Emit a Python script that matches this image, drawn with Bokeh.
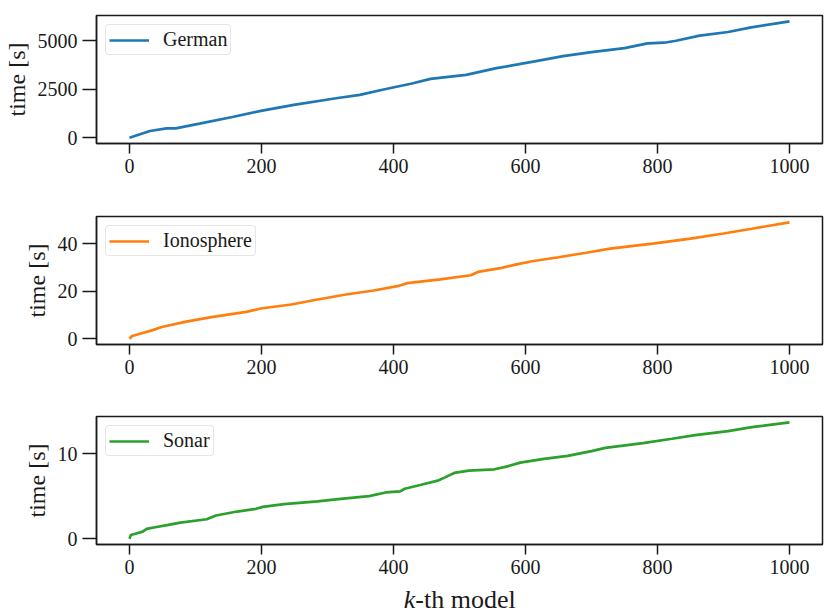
from bokeh.plotting import figure
from bokeh.layouts import column
from bokeh.models import Range1d, FixedTicker, Label, Legend, LegendItem
from bokeh.embed import file_html
from bokeh.resources import INLINE

# ---- data ----
german_k = [0, 31, 56, 70, 106, 156, 199, 249, 313, 349, 385, 428, 456, 510, 556,
            614, 657, 700, 750, 785, 810, 828, 864, 907, 942, 1000]
german_t = [0, 345, 483, 483, 724, 1069, 1379, 1690, 2034, 2207, 2483, 2793, 3034,
            3241, 3586, 3931, 4207, 4414, 4621, 4862, 4897, 5000, 5259, 5448, 5690, 6000]

iono_k = [0, 4, 20, 34, 49, 84, 124, 177, 199, 245, 285, 328, 370, 406, 421, 471,
          517, 528, 564, 585, 610, 650, 692, 728, 793, 850, 900, 943, 1000]
iono_t = [0, 1.1, 2.4, 3.5, 4.9, 7.1, 9.1, 11.3, 12.7, 14.4, 16.5, 18.6, 20.3, 22.1,
          23.4, 25.0, 26.7, 28.1, 29.8, 31.2, 32.6, 34.3, 36.2, 37.9, 40.0, 42.1,
          44.3, 46.3, 49.0]

sonar_k = [0, 2, 9, 20, 26, 41, 59, 77, 117, 131, 163, 192, 202, 234, 285, 320, 363,
           388, 410, 417, 442, 467, 478, 492, 514, 553, 571, 592, 628, 664, 700, 721,
           778, 822, 857, 907, 943, 1000]
sonar_t = [0, 0.43, 0.59, 0.83, 1.15, 1.38, 1.62, 1.90, 2.29, 2.73, 3.20, 3.52, 3.75,
           4.07, 4.39, 4.70, 5.02, 5.45, 5.57, 5.89, 6.36, 6.84, 7.23, 7.75, 8.02,
           8.18, 8.50, 8.97, 9.41, 9.76, 10.32, 10.71, 11.26, 11.78, 12.21, 12.69,
           13.16, 13.72]

names = ["German", "Ionosphere", "Sonar"]
colors = ["#1f77b4", "#ff7f0e", "#2ca02c"]
x_ticks = [0, 200, 400, 600, 800, 1000]
y_ticks = [[0, 2500, 5000], [0, 20, 40], [0, 10]]
y_label = "time [s]"
x_label_italic = "k"
x_label_rest = "-th model"

FONT = "Liberation Serif"
INK = "#1a1a1a"
W = 831
LEFT = 96
RIGHT = 9


def make_fig(k, t, color, name, yticks, height, mbt, mbb):
    span = max(t) - min(t)
    yr = Range1d(min(t) - 0.05 * span, max(t) + 0.05 * span)
    xspan = max(k) - min(k)
    xr = Range1d(min(k) - 0.05 * xspan, max(k) + 0.05 * xspan)
    p = figure(width=W, height=height, x_range=xr, y_range=yr,
               output_backend="svg", toolbar_location=None,
               min_border_left=LEFT, min_border_right=RIGHT, min_border_top=mbt,
               min_border_bottom=mbb)
    r = p.line(k, t, line_color=color, line_width=2.7)
    leg = Legend(items=[LegendItem(label=name, renderers=[r])], location="top_left",
                 label_text_font=FONT, label_text_font_size="20px",
                 label_text_color=INK,
                 glyph_width=40, glyph_height=20, label_height=20,
                 label_standoff=14, padding=3, margin=9, spacing=0,
                 border_line_color="#cccccc", border_line_width=1.5,
                 border_radius=4, background_fill_alpha=0.8)
    p.add_layout(leg)
    p.xgrid.visible = False
    p.ygrid.visible = False
    p.outline_line_color = INK
    p.outline_line_width = 1.5
    p.outline_line_alpha = 1.0
    p.background_fill_color = "white"
    p.border_fill_color = "white"
    p.xaxis.ticker = FixedTicker(ticks=x_ticks)
    p.yaxis.ticker = FixedTicker(ticks=yticks)
    for ax in (p.xaxis[0], p.yaxis[0]):
        ax.axis_line_color = INK
        ax.axis_line_width = 1.5
        ax.major_tick_line_color = INK
        ax.major_tick_line_width = 1.5
        ax.major_tick_in = 0
        ax.minor_tick_line_color = None
        ax.major_label_text_font = FONT
        ax.major_label_text_font_size = "20px"
        ax.major_label_text_color = INK
    p.xaxis.major_tick_out = 10
    p.xaxis.major_label_standoff = 5
    p.yaxis.major_tick_out = 14
    p.yaxis.major_label_standoff = 5
    p.yaxis.axis_label = y_label
    p.yaxis.axis_label_text_font = FONT
    p.yaxis.axis_label_text_font_size = "24px"
    p.yaxis.axis_label_text_font_style = "normal"
    p.yaxis.axis_label_text_color = INK
    p.yaxis.axis_label_standoff = 5
    return p


p1 = make_fig(german_k, german_t, colors[0], names[0], y_ticks[0], 209, 15, 66)
p2 = make_fig(iono_k, iono_t, colors[1], names[1], y_ticks[1], 200, 7, 65)
p3 = make_fig(sonar_k, sonar_t, colors[2], names[2], y_ticks[2], 175, 7, 40)

# x-axis title row (italic "k" + "-th model"), aligned with the frames above
pl = figure(width=W, height=28, x_range=p3.x_range, y_range=Range1d(0, 1),
            output_backend="svg", toolbar_location=None,
            x_axis_location=None, y_axis_location=None,
            min_border_left=LEFT, min_border_right=RIGHT, min_border_top=0,
            min_border_bottom=0)
pl.xgrid.visible = False
pl.ygrid.visible = False
pl.outline_line_color = None
pl.background_fill_color = "white"
pl.border_fill_color = "white"
lab_k = Label(x=433, y=1, x_units="data", y_units="data", text=x_label_italic,
              text_font=FONT, text_font_size="26px", text_font_style="italic",
              text_color=INK, text_align="right", text_baseline="top")
lab_rest = Label(x=433, y=1, x_units="data", y_units="data", text=x_label_rest,
                 text_font=FONT, text_font_size="26px", text_color=INK,
                 text_align="left", text_baseline="top")
pl.add_layout(lab_k)
pl.add_layout(lab_rest)

layout = column(p1, p2, p3, pl, spacing=0)
open("out.html", "w").write(file_html(layout, INLINE))
